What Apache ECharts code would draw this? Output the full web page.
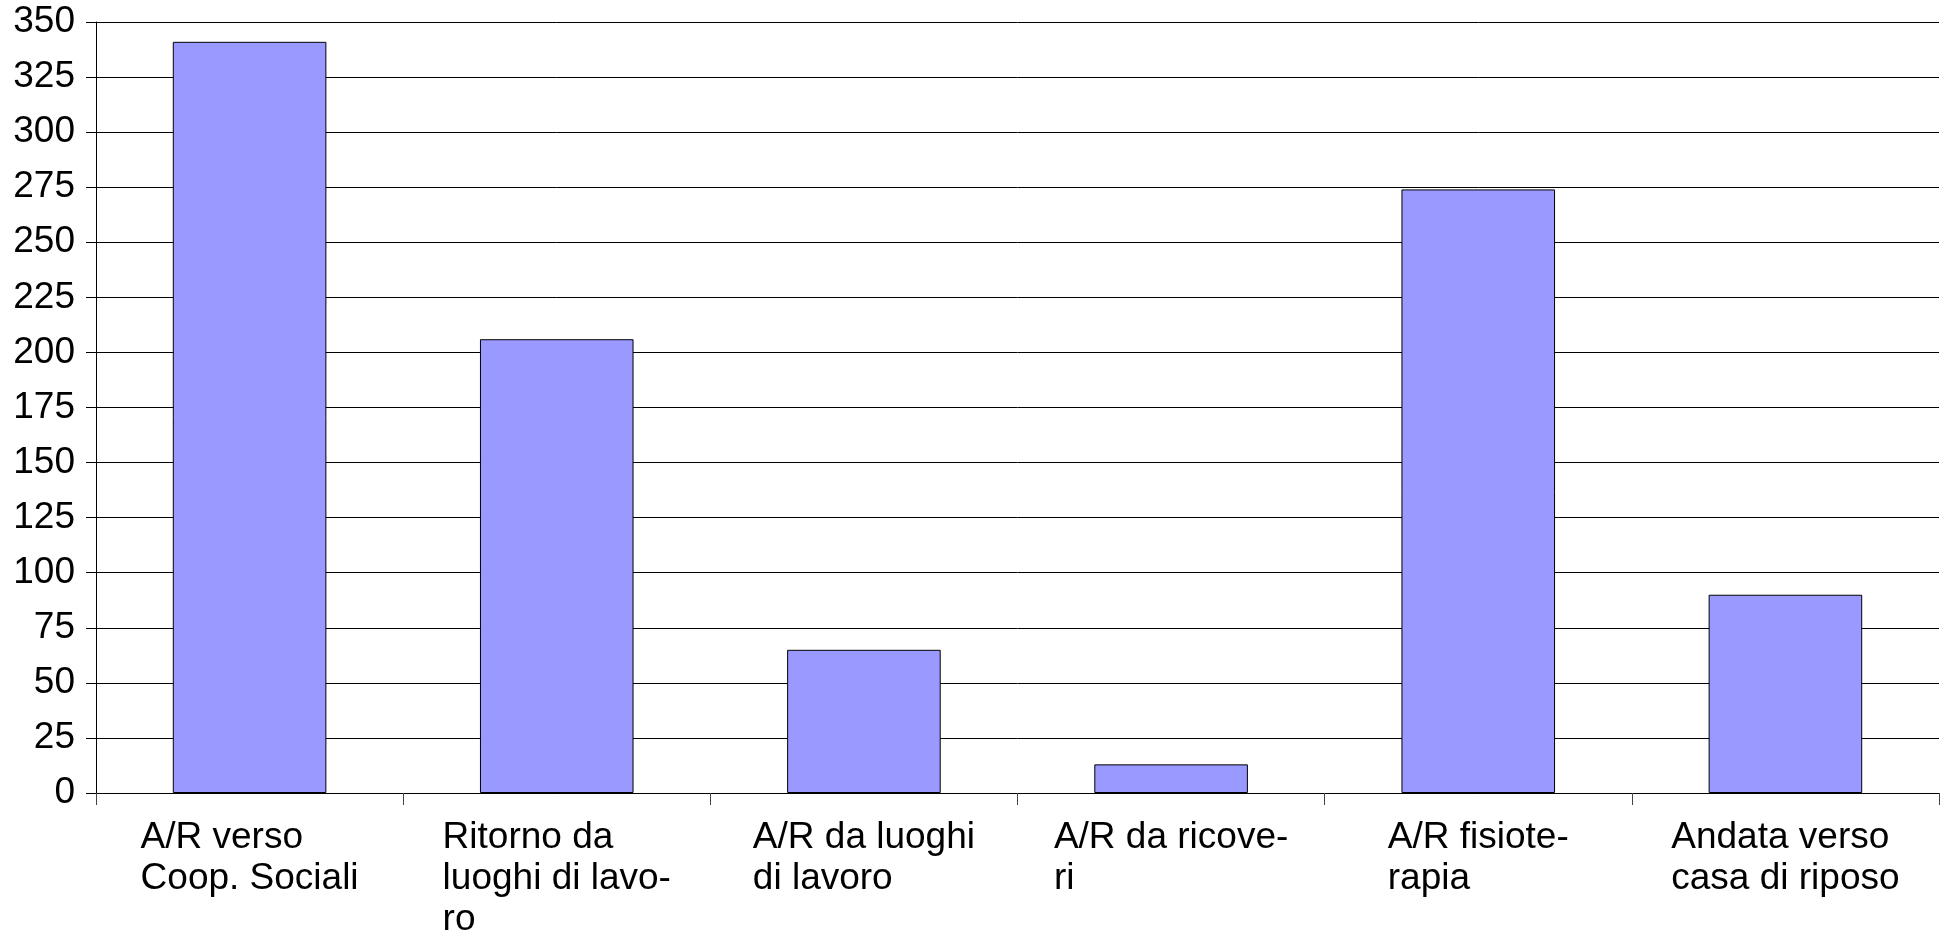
<!DOCTYPE html>
<html>
<head>
<meta charset="utf-8">
<script src="https://cdn.jsdelivr.net/npm/echarts@6/dist/echarts.min.js"></script>
<style>
html,body{margin:0;padding:0;background:#fff;}
#chart{width:1941px;height:935px;}
</style>
</head>
<body>
<div id="chart"></div>
<script>
const categories = [
  "A/R verso\nCoop. Sociali",
  "Ritorno da\nluoghi di lavo-\nro",
  "A/R da luoghi\ndi lavoro",
  "A/R da ricove-\nri",
  "A/R fisiote-\nrapia",
  "Andata verso\ncasa di riposo"
];
const values = [341, 206, 65, 13, 274, 90];
const yMin = 0, yMax = 350, yStep = 25;

const chart = echarts.init(document.getElementById('chart'), null, {renderer: 'canvas'});
chart.setOption({
  animation: false,
  backgroundColor: '#ffffff',
  grid: {left: 96, right: 2, top: 22, bottom: 142, containLabel: false, outerBoundsMode: 'none'},
  xAxis: {
    type: 'category',
    data: categories,
    axisLine: {show: true, lineStyle: {color: '#000', width: 1}},
    axisTick: {show: true, length: 12, lineStyle: {color: '#444'}},
    axisLabel: {
      margin: 24,
      interval: 0,
      align: 'center',
      fontFamily: 'Liberation Sans, Arial, sans-serif',
      fontSize: 37,
      lineHeight: 41,
      color: '#000',
      formatter: function (v) {
        return v.split('\n').map(function (s) { return '{a|' + s + '}'; }).join('\n');
      },
      rich: {a: {align: 'left', fontFamily: 'Liberation Sans, Arial, sans-serif', fontSize: 37, lineHeight: 41, color: '#000'}}
    }
  },
  yAxis: {
    type: 'value',
    min: yMin, max: yMax, interval: yStep,
    axisLine: {show: true, lineStyle: {color: '#000', width: 1}},
    axisTick: {show: true, length: 10, lineStyle: {color: '#000'}},
    axisLabel: {
      margin: 21,
      fontFamily: 'Liberation Sans, Arial, sans-serif',
      fontSize: 37,
      color: '#000'
    },
    splitLine: {show: true, lineStyle: {color: '#000', width: 1}}
  },
  series: [{
    type: 'bar',
    data: values,
    barCategoryGap: '50%',
    itemStyle: {color: '#9999ff', borderColor: '#000', borderWidth: 1}
  }]
});
</script>
</body>
</html>
